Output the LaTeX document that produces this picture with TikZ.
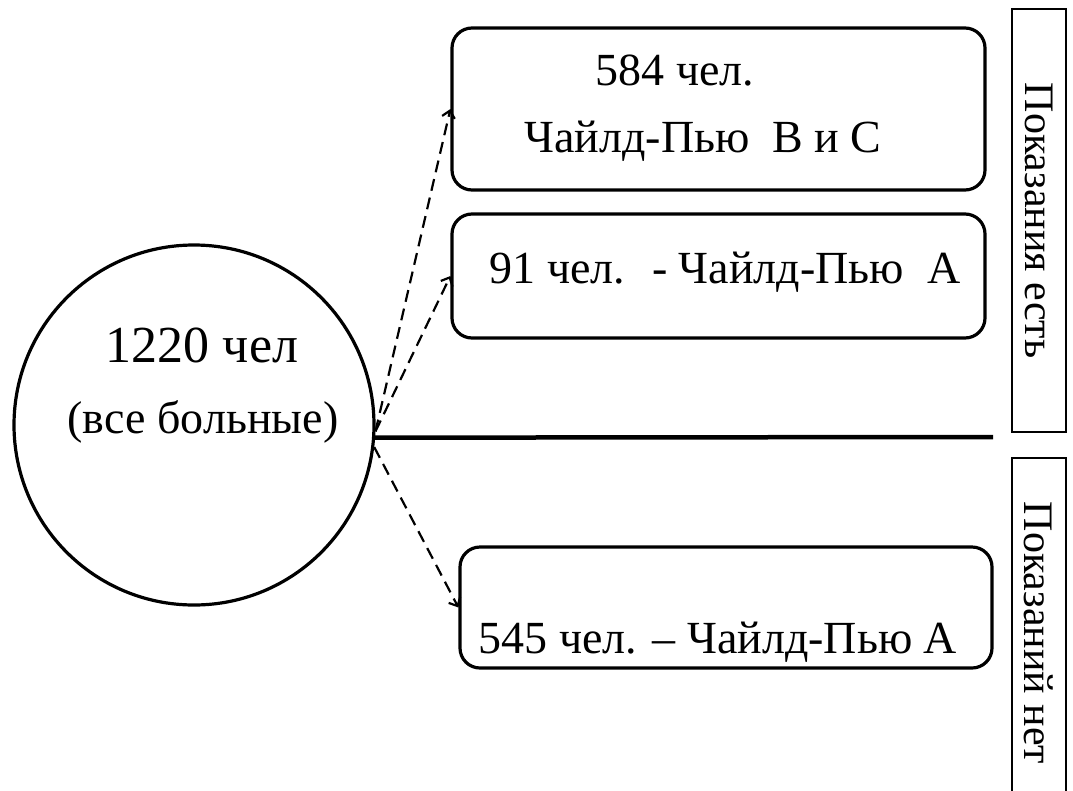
\documentclass[tikz,border=0pt]{standalone}
\usepackage{fontspec}
\setmainfont{LiberationSerif}[Extension=.ttf, UprightFont=*-Regular, BoldFont=*-Bold]
\usetikzlibrary{arrows.meta}

\tikzset{
  groupbox/.style={draw, line width=3.2pt, rounded corners=20pt, inner sep=0pt},
  sidebox/.style={draw, line width=2.8pt, rotate=-90, minimum height=54pt, inner sep=0pt,
    font=\fontsize{42}{50}\selectfont},
  boxtext/.style={anchor=base, inner sep=0pt, font=\fontsize{46}{55}\selectfont},
  link/.style={line width=2.2pt, dash pattern=on 12pt off 7pt,
    -{Straight Barb[length=7pt,width=13pt,line width=2.2pt]}}
}

\begin{document}
\begin{tikzpicture}[x=1pt,y=-1pt]
\useasboundingbox (0,0) rectangle (1073,790);

% all patients
\node[circle, draw, line width=3.2pt, minimum size=360pt, inner sep=0pt] (total) at (194,425) {};
\node[boxtext, font=\fontsize{52}{60}\selectfont] (totalnum) at (202,362) {1220 чел};
\node[boxtext] (totalall) at (203,433) {(все больные)};

% indications present
\node[groupbox, minimum width=533pt, minimum height=162pt] (bc) at (718.5,109) {};
\node[boxtext] (bcnum) at (675,85) {584 чел.};
\node[boxtext] (bcname) at (703,152) {Чайлд-Пью~ В и С};
\node[groupbox, minimum width=533pt, minimum height=124pt] (afew) at (718.5,276) {};
\node[boxtext] (afewtext) at (725,283) {91 чел.~ - Чайлд-Пью~ А};

% no indications
\node[groupbox, minimum width=532pt, minimum height=121pt] (amany) at (726,607.5) {};
\node[boxtext] (amanytext) at (718,653) {545 чел. – Чайлд-Пью А};

% side labels
\node[sidebox, minimum width=423pt] (yes) at (1039,220.5) {Показания есть};
\node[sidebox, minimum width=350pt] (no) at (1039,633) {Показаний нет};

% divider
\coordinate (lineend) at (993,437);
\draw[line width=4.5pt] (total.-4) -- (lineend);

% links
\draw[link] (total.-2) -- (bc.west);
\draw[link] (total.-2) -- (afew.west);
\draw[link] (total.-7) -- (amany.west);
\end{tikzpicture}
\end{document}
